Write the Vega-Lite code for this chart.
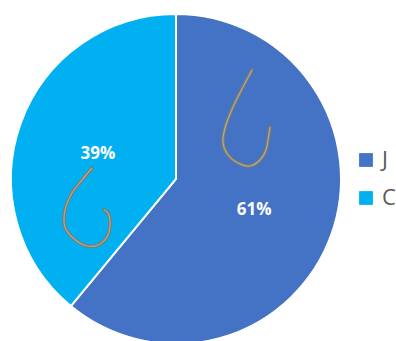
{"$schema":"https://vega.github.io/schema/vega-lite/v6.json","width":352,"height":358,"padding":{"left":0,"top":0,"right":44,"bottom":0},"autosize":{"type":"none"},"background":"white","config":{"view":{"stroke":null}},
"datasets":{"shares":[{"name":"J","share":61,"label":"61%","rank":1},{"name":"C","share":39,"label":"39%","rank":2}],
"hooks":[{"hook":"a","i":0,"u":252,"v":70},{"hook":"a","i":1,"u":243,"v":87},{"hook":"a","i":2,"u":233,"v":107},{"hook":"a","i":3,"u":225,"v":128},{"hook":"a","i":4,"u":223,"v":143},{"hook":"a","i":5,"u":228,"v":155},{"hook":"a","i":6,"u":238,"v":163},{"hook":"a","i":7,"u":250,"v":166},{"hook":"a","i":8,"u":260,"v":160},{"hook":"a","i":9,"u":266,"v":150},{"hook":"a","i":10,"u":268,"v":140},{"hook":"a","i":11,"u":270,"v":127},
{"hook":"b","i":0,"u":92,"v":168},{"hook":"b","i":1,"u":82,"v":180},{"hook":"b","i":2,"u":72,"v":193},{"hook":"b","i":3,"u":65,"v":210},{"hook":"b","i":4,"u":65,"v":227},{"hook":"b","i":5,"u":73,"v":238},{"hook":"b","i":6,"u":87,"v":246},{"hook":"b","i":7,"u":98,"v":245},{"hook":"b","i":8,"u":107,"v":237},{"hook":"b","i":9,"u":110,"v":225},{"hook":"b","i":10,"u":108,"v":213},{"hook":"b","i":11,"u":104,"v":210}]},
"layer":[
{"data":{"name":"shares"},"mark":{"type":"arc","outerRadius":165,"stroke":"white","strokeWidth":2},
"encoding":{"theta":{"field":"share","type":"quantitative","stack":true},"order":{"field":"rank","type":"ordinal"},
"color":{"field":"name","type":"nominal","sort":null,"scale":{"domain":["J","C"],"range":["#4472C4","#00B0F0"]},
"legend":{"title":null,"orient":"none","legendX":355,"legendY":149,"symbolType":"square","symbolSize":190,"symbolStrokeWidth":0,"labelFontSize":22,"labelColor":"#595959","labelFont":"Open Sans","labelOffset":5,"rowPadding":16}}}},
{"data":{"name":"hooks"},"mark":{"type":"line","interpolate":"catmull-rom","stroke":"#7d7a70","strokeWidth":3.5,"strokeCap":"round"},
"encoding":{"x":{"field":"u","type":"quantitative","scale":{"domain":[0,352]},"axis":null},"y":{"field":"v","type":"quantitative","scale":{"domain":[358,0]},"axis":null},"order":{"field":"i","type":"quantitative"},"detail":{"field":"hook"}}},
{"data":{"name":"hooks"},"mark":{"type":"line","interpolate":"catmull-rom","stroke":"#b9b6a0","strokeWidth":1.2,"opacity":0.8},
"encoding":{"x":{"field":"u","type":"quantitative","scale":{"domain":[0,352]},"axis":null},"y":{"field":"v","type":"quantitative","scale":{"domain":[358,0]},"axis":null},"order":{"field":"i","type":"quantitative"},"detail":{"field":"hook"}}},
{"data":{"name":"shares"},"mark":{"type":"text","radius":83,"dy":3,"color":"white","fontWeight":"bold","fontSize":17,"font":"Open Sans"},
"encoding":{"theta":{"field":"share","type":"quantitative","stack":true},"order":{"field":"rank","type":"ordinal"},"text":{"field":"label"}}}
]}
